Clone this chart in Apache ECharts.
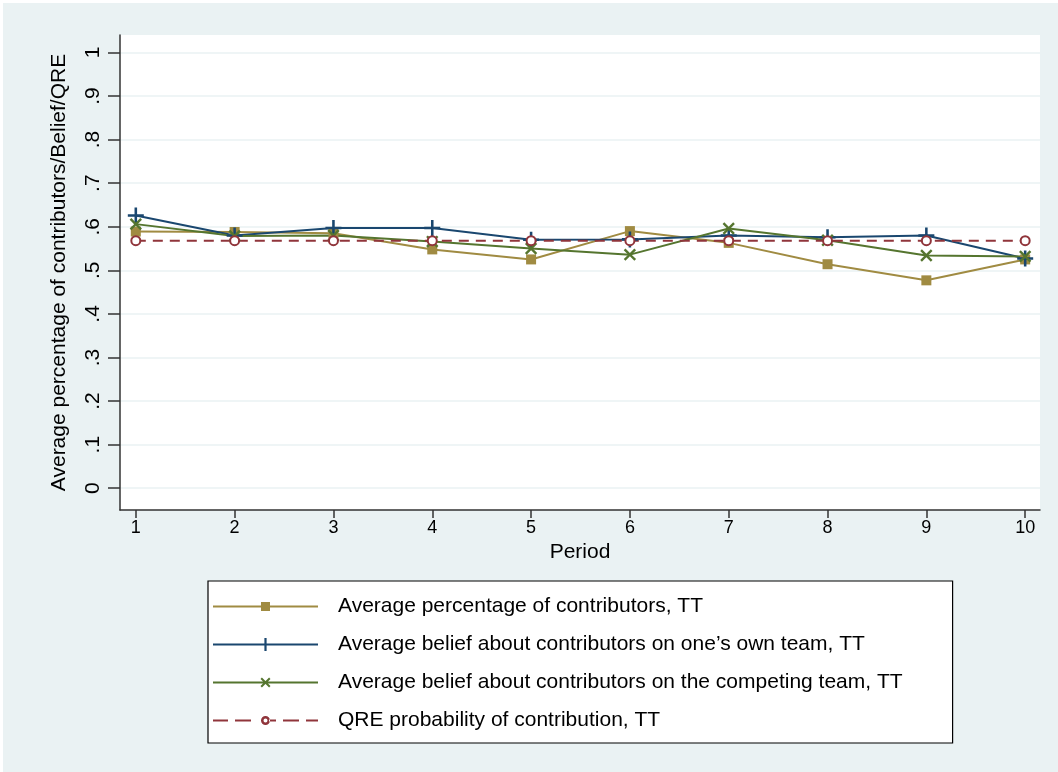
<!DOCTYPE html>
<html>
<head>
<meta charset="utf-8">
<script src="https://cdn.jsdelivr.net/npm/echarts@6/dist/echarts.min.js"></script>
<style>
html,body{margin:0;padding:0;background:#ffffff;}
#wrap{position:absolute;left:0;top:0;width:1058px;height:772px;background:#ffffff;}
#chart{position:absolute;left:3px;top:3px;width:1055px;height:769px;}
</style>
</head>
<body>
<div id="wrap"><div id="chart"></div></div>
<script>
// ---- data ----
var periods = [1, 2, 3, 4, 5, 6, 7, 8, 9, 10];
var contributors = [0.589, 0.588, 0.585, 0.548, 0.525, 0.590, 0.563, 0.514, 0.477, 0.525];
var beliefOwn = [0.626, 0.580, 0.597, 0.597, 0.570, 0.571, 0.580, 0.576, 0.580, 0.527];
var beliefCompeting = [0.606, 0.579, 0.580, 0.566, 0.550, 0.536, 0.596, 0.569, 0.534, 0.532];
var qre = [0.568, 0.568, 0.568, 0.568, 0.568, 0.568, 0.568, 0.568, 0.568, 0.568];
var yTicks = [0, 0.1, 0.2, 0.3, 0.4, 0.5, 0.6, 0.7, 0.8, 0.9, 1];
var yTickLabels = ['0', '.1', '.2', '.3', '.4', '.5', '.6', '.7', '.8', '.9', '1'];
var seriesNames = [
  'Average percentage of contributors, TT',
  'Average belief about contributors on one\u2019s own team, TT',
  'Average belief about contributors on the competing team, TT',
  'QRE probability of contribution, TT'
];
var seriesColors = ['#a08b42', '#1a476f', '#55752f', '#90353b'];

function pairs(vals) {
  return periods.map(function (p, i) { return [p, vals[i]]; });
}

var FONT = "'Liberation Sans', Arial, sans-serif";
var plusPath = 'path://M4.2,0 H5.8 V4.2 H10 V5.8 H5.8 V10 H4.2 V5.8 H0 V4.2 H4.2 Z';

// legend keys: line + marker, drawn in a 105 x 14 box
var keyLine = 'M0,6 H105 V8 H0 Z ';
var legendIcons = [
  'path://' + keyLine + 'M48,2.5 H57 V11.5 H48 Z',
  'path://' + keyLine + 'M51.4,0.5 H53.6 V13.5 H51.4 Z',
  'path://' + keyLine + 'M47.5,3.4 L48.9,2 L57.5,10.6 L56.1,12 Z M56.1,2 L57.5,3.4 L48.9,12 L47.5,10.6 Z',
  'path://M0,6 H15 V8 H0 Z M22,6 H38 V8 H22 Z M56,6 H63 V8 H56 Z M70,6 H86 V8 H70 Z M93,6 H105 V8 H93 Z ' +
    'M48,7 A4.5,4.5 0 1,0 57,7 A4.5,4.5 0 1,0 48,7 Z M50.5,7 A2,2 0 1,1 54.5,7 A2,2 0 1,1 50.5,7 Z'
];

var chart = echarts.init(document.getElementById('chart'), null, {renderer: 'canvas'});
var option = {
  backgroundColor: '#eaf2f3',
  animation: false,
  textStyle: {fontFamily: FONT},
  grid: {
    left: 117, top: 32, right: 18, bottom: 262,
    show: true, backgroundColor: '#ffffff', borderWidth: 0
  },
  xAxis: {
    type: 'value',
    min: 0.84, max: 10.15,
    name: 'Period',
    nameLocation: 'middle',
    nameGap: 32,
    nameTextStyle: {fontSize: 21, color: '#000', fontFamily: FONT},
    axisLine: {onZero: false, lineStyle: {color: '#333', width: 1.5}},
    axisTick: {customValues: periods, length: 8, lineStyle: {color: '#333', width: 1.5}},
    axisLabel: {customValues: periods, fontSize: 18, color: '#000', margin: 9, fontFamily: FONT},
    splitLine: {show: false}
  },
  yAxis: {
    type: 'value',
    min: -0.05, max: 1.04,
    name: 'Average percentage of contributors/Belief/QRE',
    nameLocation: 'middle',
    nameGap: 50,
    nameTextStyle: {fontSize: 21, color: '#000', fontFamily: FONT},
    axisLine: {show: true, lineStyle: {color: '#333', width: 1.5}},
    axisTick: {show: true, customValues: yTicks, length: 12, lineStyle: {color: '#333', width: 1.5}},
    axisLabel: {
      customValues: yTicks, rotate: 90, fontSize: 21, color: '#000', margin: 16, fontFamily: FONT,
      formatter: function (v) {
        var i = yTicks.findIndex(function (t) { return Math.abs(t - v) < 1e-6; });
        return i >= 0 ? yTickLabels[i] : '';
      }
    },
    splitLine: {show: true, lineStyle: {color: '#eaf2f3', width: 1.5}}
  },
  legend: {
    orient: 'vertical',
    left: 205, top: 578,
    backgroundColor: '#ffffff',
    borderColor: '#000',
    borderWidth: 1.2,
    borderRadius: 0,
    padding: [15, 50, 12, 5],
    itemWidth: 105,
    itemHeight: 14,
    itemGap: 17,
    symbolKeepAspect: true,
    textStyle: {fontSize: 21, lineHeight: 21, color: '#000', fontFamily: FONT, padding: [0, 0, 0, 15]},
    data: seriesNames.map(function (n, i) {
      return {name: n, icon: legendIcons[i], itemStyle: {color: seriesColors[i], borderWidth: 0}};
    })
  },
  series: [
    {
      name: seriesNames[0], type: 'line', data: pairs(contributors),
      symbol: 'rect', symbolSize: 10,
      itemStyle: {color: seriesColors[0]},
      lineStyle: {color: seriesColors[0], width: 2}
    },
    {
      name: seriesNames[1], type: 'line', data: pairs(beliefOwn),
      symbol: plusPath, symbolSize: 16,
      itemStyle: {color: seriesColors[1]},
      lineStyle: {color: seriesColors[1], width: 2}
    },
    {
      name: seriesNames[2], type: 'line', data: pairs(beliefCompeting),
      symbol: plusPath, symbolSize: 15, symbolRotate: 45,
      itemStyle: {color: seriesColors[2]},
      lineStyle: {color: seriesColors[2], width: 2}
    },
    {
      name: seriesNames[3], type: 'line', data: pairs(qre),
      symbol: 'emptyCircle', symbolSize: 9,
      itemStyle: {color: seriesColors[3], borderWidth: 2},
      lineStyle: {color: seriesColors[3], width: 2, type: [10, 7]}
    }
  ]
};
chart.setOption(option);
</script>
</body>
</html>
